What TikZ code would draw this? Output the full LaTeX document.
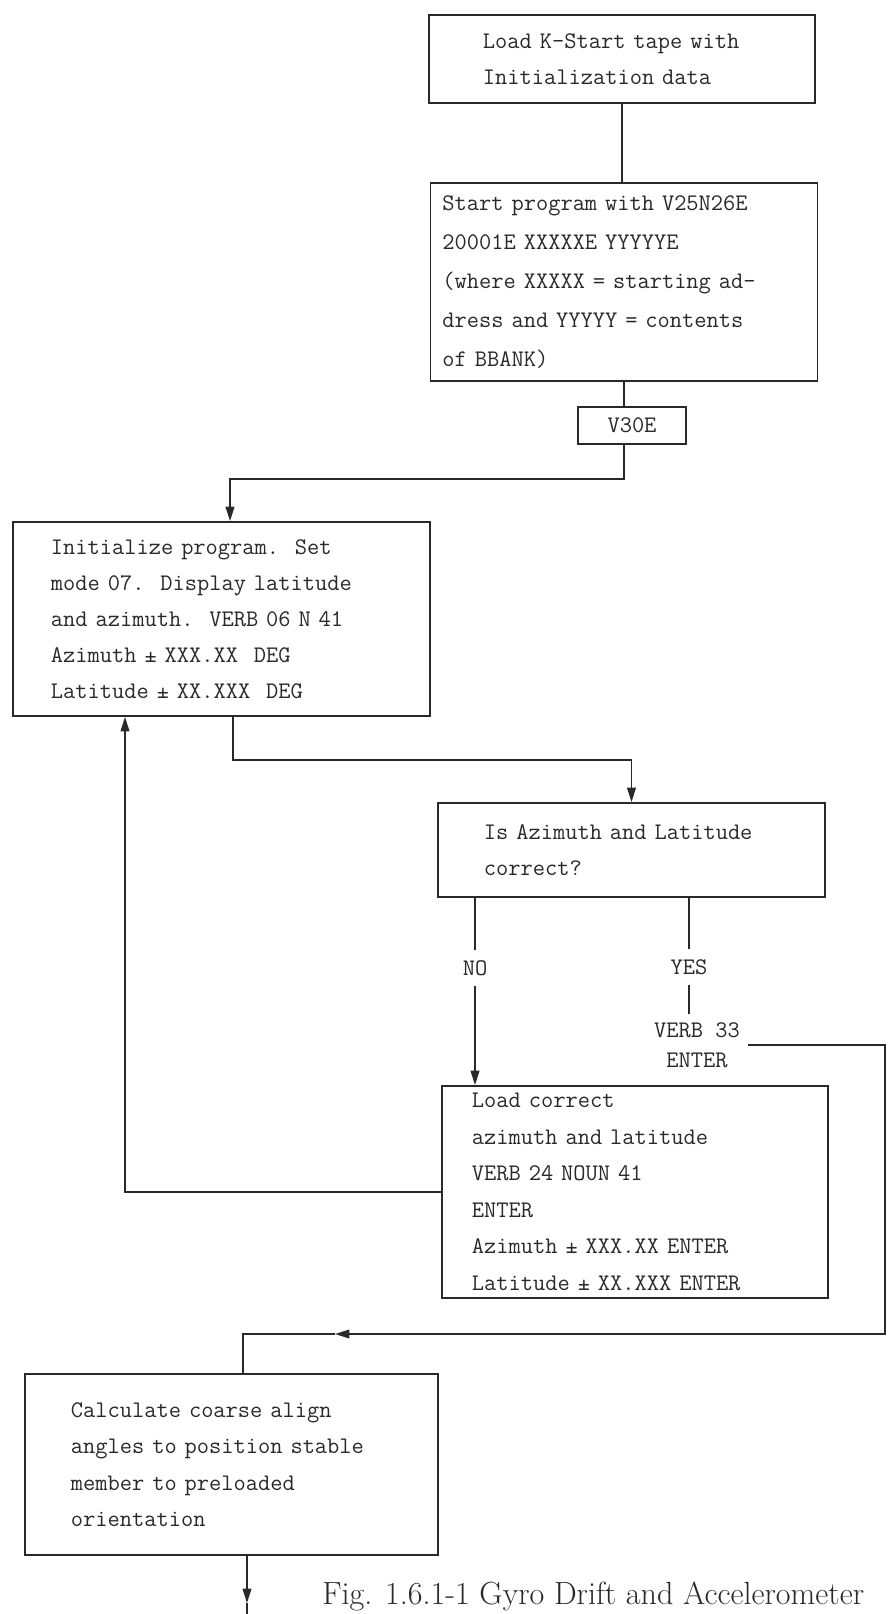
\documentclass[tikz,border=0pt]{standalone}
\usetikzlibrary{arrows.meta}
\definecolor{ink}{gray}{0.16}
\newcommand{\flowfont}{\ttfamily\fontsize{16.9}{25.6}\selectfont}
\begin{document}
\begin{tikzpicture}[
    x=0.025cm, y=-0.025cm,
    stepbox/.style={draw=ink, line width=1.3pt, text=ink, font=\flowfont, align=left, inner ysep=0pt},
    tag/.style={text=ink, font=\flowfont, align=center, inner xsep=0.2cm, inner ysep=0.25cm},
    conn/.style={draw=ink, line width=1pt},
    arr/.style={conn, -{Triangle[length=3.6mm, width=2.2mm]}}
  ]
  \useasboundingbox (0,0) rectangle (889,1614);
  \node[stepbox, minimum width=9.65cm, minimum height=2.2cm, inner xsep=1.35cm, text width=6.95cm] (load) at (622,59) {Load K-Start tape with\\Initialization data};
  \node[stepbox, minimum width=9.675cm, minimum height=4.95cm, inner xsep=0.3cm, text width=9.075cm, font=\ttfamily\fontsize{16.9}{27.6}\selectfont] (start) at (624,282) {Start program with V25N26E\\20001E XXXXXE YYYYYE\\(where XXXXX = starting ad-\\dress and YYYYY = contents\\of BBANK)};
  \node[stepbox, minimum width=2.7cm, minimum height=0.925cm, inner xsep=0pt, align=center] (vthirty) at (632,425.5) {V30E};
  \node[stepbox, minimum width=10.425cm, minimum height=4.85cm, inner xsep=0.95cm, text width=8.525cm] (init) at (221.5,619) {Initialize program.~~Set\\mode 07.~~Display latitude\\and azimuth.~~VERB 06 N 41\\Azimuth ± XXX.XX~~DEG\\Latitude ± XX.XXX~~DEG};
  \node[stepbox, minimum width=9.675cm, minimum height=2.35cm, inner xsep=1.15cm, text width=7.375cm] (check) at (631.5,850) {Is Azimuth and Latitude\\correct?};
  \node[tag] (no) at (475,968) {NO};
  \node[tag] (yes) at (689,967) {YES};
  \node[tag, inner ysep=0.2cm, font=\ttfamily\fontsize{16.9}{21.3}\selectfont] (verb) at (697,1045) {VERB 33\\ENTER};
  \node[stepbox, minimum width=9.65cm, minimum height=5.3cm, inner xsep=0.75cm, text width=8.15cm, font=\ttfamily\fontsize{16.9}{26}\selectfont] (fix) at (635,1192) {Load correct\\azimuth and latitude\\VERB 24 NOUN 41\\ENTER\\Azimuth ± XXX.XX ENTER\\Latitude ± XX.XXX ENTER};
  \node[stepbox, minimum width=10.325cm, minimum height=4.525cm, inner xsep=1.15cm, text width=8.025cm, font=\ttfamily\fontsize{16.9}{26}\selectfont] (coarse) at (231.5,1464.5) {Calculate coarse align\\angles to position stable\\member to preloaded\\orientation};
  \node[anchor=base west, text=ink, font=\rmfamily\fontsize{22.8}{27}\selectfont, inner sep=0pt] (caption) at (322,1604) {Fig. 1.6.1-1 Gyro Drift and Accelerometer};
  \coordinate (j1) at (230,479);
  \coordinate (j2) at (233,760);
  \coordinate (j3) at (243,1334);
  \coordinate (j4) at (125,1193);
  \coordinate (rc) at (885,1334);
  \coordinate (mid) at (335,1334);
  \coordinate (tip) at (247,1603);
  \coordinate (out) at (247,1614);
  \draw[conn] (load.south) -- (load.south |- start.north);
  \draw[conn] (start.south) -- (start.south |- vthirty.north);
  \draw[arr] (vthirty.south -| start.south) |- (j1) -- (j1 |- init.north);
  \draw[arr] (j2 |- init.south) -- (j2) -| (check.north);
  \draw[conn] (no.north |- check.south) -- (no.north);
  \draw[arr] (no.south) -- (no.south |- fix.north);
  \draw[conn] (yes.north |- check.south) -- (yes.north);
  \draw[conn] (yes.south) -- (yes.south |- verb.north);
  \draw[arr] (verb.east) -| (rc) -- (mid);
  \draw[conn] (mid) -- (j3) -- (j3 |- coarse.north);
  \draw[arr] (fix.west) -- (fix.west -| j4) -- (j4 |- init.south);
  \draw[arr] (coarse.south -| tip) -- (tip);
  \draw[conn] (tip) -- (out);
\end{tikzpicture}
\end{document}
